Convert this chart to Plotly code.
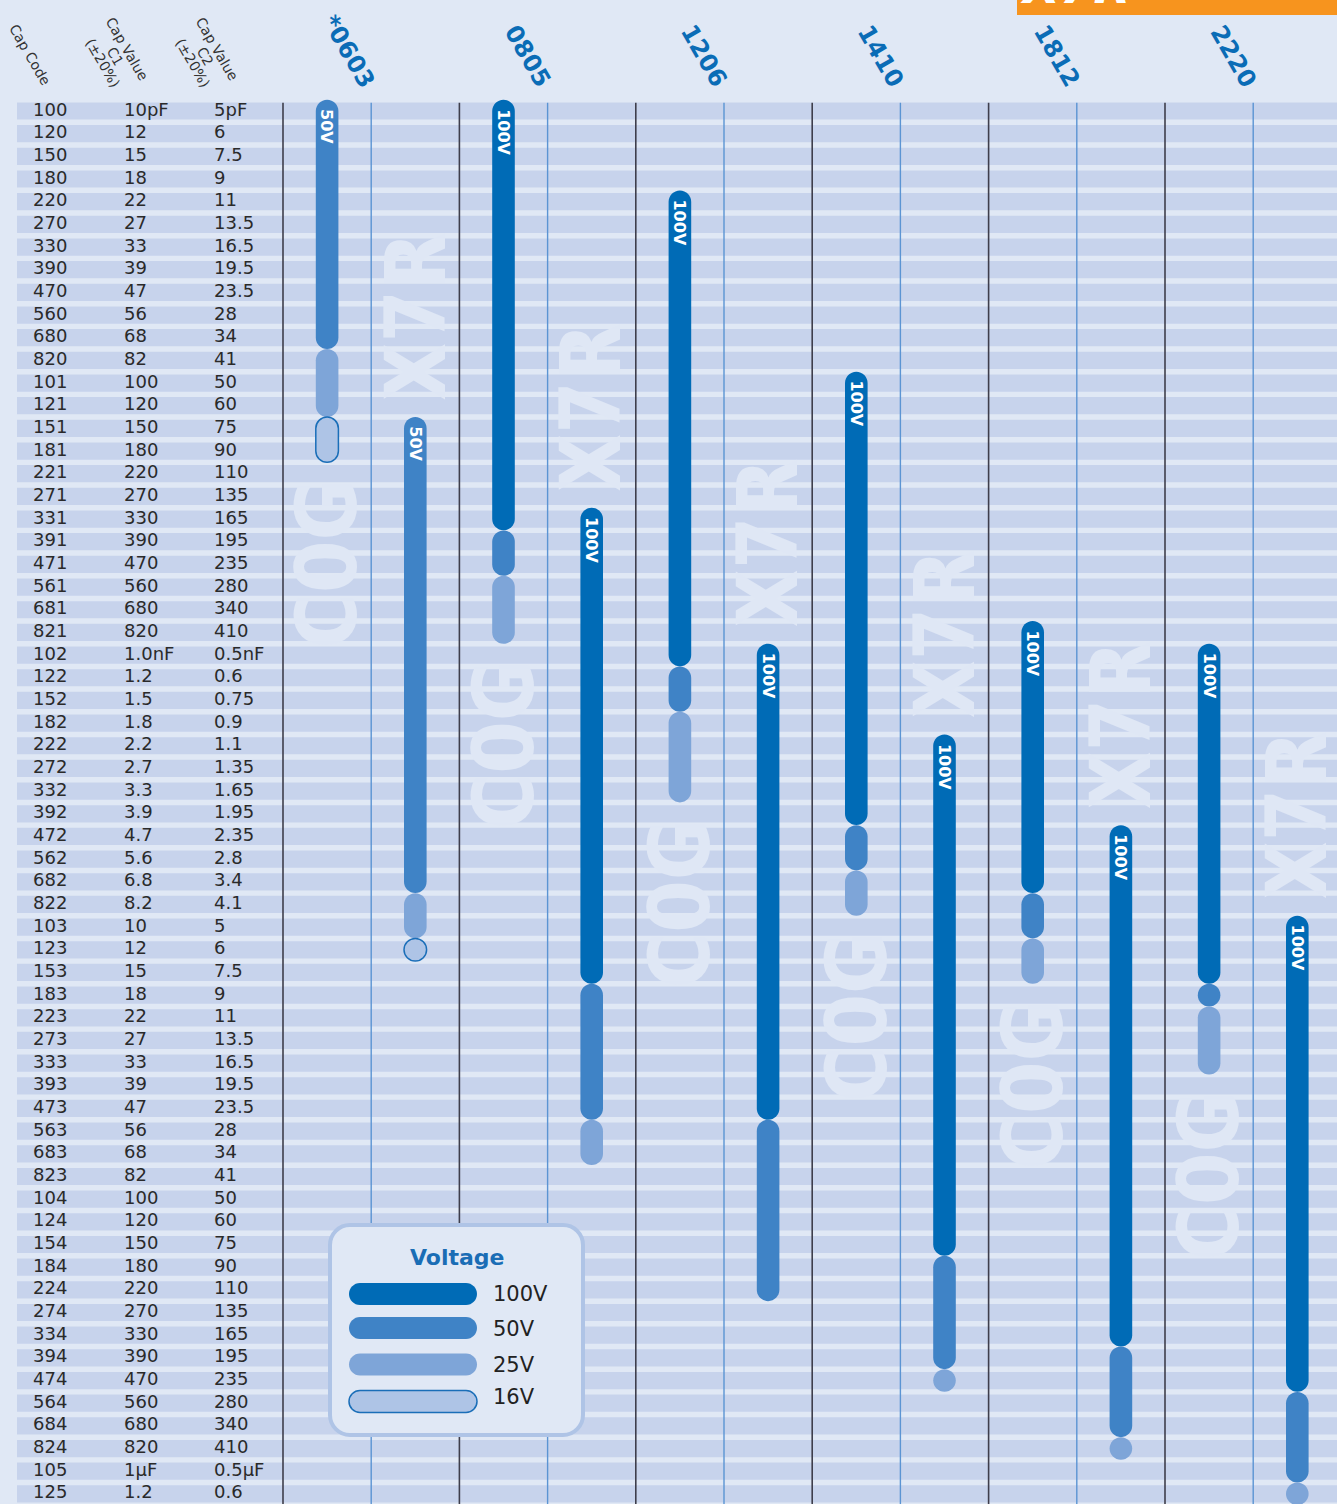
import plotly.graph_objects as go

# ---------------- data ----------------
cap_codes = ["100", "120", "150", "180", "220", "270", "330", "390", "470", "560", "680", "820",
             "101", "121", "151", "181", "221", "271", "331", "391", "471", "561", "681", "821",
             "102", "122", "152", "182", "222", "272", "332", "392", "472", "562", "682", "822",
             "103", "123", "153", "183", "223", "273", "333", "393", "473", "563", "683", "823",
             "104", "124", "154", "184", "224", "274", "334", "394", "474", "564", "684", "824",
             "105", "125"]
cap_c1 = ["10pF", "12", "15", "18", "22", "27", "33", "39", "47", "56", "68", "82",
          "100", "120", "150", "180", "220", "270", "330", "390", "470", "560", "680", "820",
          "1.0nF", "1.2", "1.5", "1.8", "2.2", "2.7", "3.3", "3.9", "4.7", "5.6", "6.8", "8.2",
          "10", "12", "15", "18", "22", "27", "33", "39", "47", "56", "68", "82",
          "100", "120", "150", "180", "220", "270", "330", "390", "470", "560", "680", "820",
          "1µF", "1.2"]
cap_c2 = ["5pF", "6", "7.5", "9", "11", "13.5", "16.5", "19.5", "23.5", "28", "34", "41",
          "50", "60", "75", "90", "110", "135", "165", "195", "235", "280", "340", "410",
          "0.5nF", "0.6", "0.75", "0.9", "1.1", "1.35", "1.65", "1.95", "2.35", "2.8", "3.4", "4.1",
          "5", "6", "7.5", "9", "11", "13.5", "16.5", "19.5", "23.5", "28", "34", "41",
          "50", "60", "75", "90", "110", "135", "165", "195", "235", "280", "340", "410",
          "0.5µF", "0.6"]

packages = ["*0603", "0805", "1206", "1410", "1812", "2220"]
dielectrics = ["C0G", "X7R"]
voltages = ["100V", "50V", "25V", "16V"]

# (voltage, first cap code, last cap code)
c0g_0603 = [("50V", "100", "680"), ("25V", "820", "121"), ("16V", "151", "181")]
x7r_0603 = [("50V", "151", "682"), ("25V", "822", "103"), ("16V", "123", "123")]
c0g_0805 = [("100V", "100", "331"), ("50V", "391", "471"), ("25V", "561", "821")]
x7r_0805 = [("100V", "331", "153"), ("50V", "183", "473"), ("25V", "563", "683")]
c0g_1206 = [("100V", "220", "102"), ("50V", "122", "152"), ("25V", "182", "332")]
x7r_1206 = [("100V", "102", "473"), ("50V", "563", "224")]
c0g_1410 = [("100V", "101", "392"), ("50V", "472", "562"), ("25V", "682", "822")]
x7r_1410 = [("100V", "222", "154"), ("50V", "184", "394"), ("25V", "474", "474")]
c0g_1812 = [("100V", "821", "682"), ("50V", "822", "103"), ("25V", "123", "153")]
x7r_1812 = [("100V", "472", "334"), ("50V", "394", "684"), ("25V", "824", "824")]
c0g_2220 = [("100V", "102", "153"), ("50V", "183", "183"), ("25V", "223", "333")]
x7r_2220 = [("100V", "103", "474"), ("50V", "564", "105"), ("25V", "125", "125")]

c0g_ranges = [c0g_0603, c0g_0805, c0g_1206, c0g_1410, c0g_1812, c0g_2220]
x7r_ranges = [x7r_0603, x7r_0805, x7r_1206, x7r_1410, x7r_1812, x7r_2220]

# ---------------- style / geometry ----------------
W, H = 1337, 1504
BG = "#e0e8f5"
BAND = "#c7d3ec"
VCOL = {"100V": "#006bb6", "50V": "#3f83c6", "25V": "#7ea5d8", "16V": "#aec4e6"}
OUTLINE16 = "#1a6eb8"
TXT = "#2a2a2a"
BLUE_TXT = "#0a6cb6"
WM_COL = "#dfe7f5"

X0_PX, PKG_PX = 283.0, 176.4      # pixel x of first package border, package width
ROW0_PX, ROW_PX = 111.0, 22.67    # pixel y of first row centre, row pitch


def xd(px):
    return (px - X0_PX) / PKG_PX


def yd(py):
    return (py - ROW0_PX) / ROW_PX


def px_x(px):
    return px / W


def px_y(py):
    return 1 - py / H


row_of = {c: i for i, c in enumerate(cap_codes)}
rows = list(range(len(cap_codes)))

RX = 11.3 / PKG_PX
RY = 11.3 / ROW_PX
K = 0.5523


def pill_path(cx, top, bot, rx, ry):
    f = lambda v: f"{v:.5f}"
    a, b = top + ry, bot - ry
    return (f"M{f(cx-rx)},{f(a)} "
            f"C{f(cx-rx)},{f(a-K*ry)} {f(cx-K*rx)},{f(top)} {f(cx)},{f(top)} "
            f"C{f(cx+K*rx)},{f(top)} {f(cx+rx)},{f(a-K*ry)} {f(cx+rx)},{f(a)} "
            f"L{f(cx+rx)},{f(b)} "
            f"C{f(cx+rx)},{f(b+K*ry)} {f(cx+K*rx)},{f(bot)} {f(cx)},{f(bot)} "
            f"C{f(cx-K*rx)},{f(bot)} {f(cx-rx)},{f(b+K*ry)} {f(cx-rx)},{f(b)} Z")


fig = go.Figure()

# row bands
fig.add_trace(go.Bar(orientation="h", y=rows, x=[xd(W + 40) - xd(17)] * len(rows), base=xd(17),
                     width=0.76, marker=dict(color=BAND, line=dict(width=0)), hoverinfo="skip"))

# table text
TABLE_FONT = dict(family="DejaVu Sans", size=18, color=TXT)
for col_px, labels in [(33, cap_codes), (124, cap_c1), (214, cap_c2)]:
    fig.add_trace(go.Scatter(x=[xd(col_px)] * len(rows), y=rows, mode="text", text=labels,
                             textposition="middle right", textfont=TABLE_FONT,
                             hoverinfo="skip", cliponaxis=False))

shapes = []
annotations = []

# vertical column lines
for k in range(len(packages)):
    shapes.append(dict(type="line", xref="x", yref="y", x0=k, x1=k, y0=-0.36, y1=len(rows) + 2,
                       line=dict(color="#3e3e4c", width=1.6)))
    shapes.append(dict(type="line", xref="x", yref="y", x0=k + 0.5, x1=k + 0.5, y0=-0.36,
                       y1=len(rows) + 2, line=dict(color="#5b94d3", width=1.4)))

WM_FONT = dict(family="DejaVu Sans Condensed, sans-serif", size=84, color=WM_COL, weight="bold")

# pills
for k in range(len(packages)):
    for d, ranges in enumerate([c0g_ranges[k], x7r_ranges[k]]):
        cx = k + 0.25 + 0.5 * d
        for v, s, e in ranges:
            top = row_of[s] - RY
            bot = row_of[e] + RY
            line = dict(color=OUTLINE16, width=1.5) if v == "16V" else dict(width=0)
            shapes.append(dict(type="path", xref="x", yref="y", path=pill_path(cx, top, bot, RX, RY),
                               fillcolor=VCOL[v], line=line, layer="above"))
        # voltage label on top segment
        v0, s0, _ = ranges[0]
        annotations.append(dict(text=v0, x=cx, y=row_of[s0] - RY + 7 / ROW_PX, xref="x", yref="y",
                                textangle=90, xanchor="center", yanchor="top", showarrow=False,
                                font=dict(family="DejaVu Sans", size=16, color="white", weight="bold")))
        # dielectric watermark
        if d == 0:
            y_end = row_of[ranges[-1][2]] + RY + 14 / ROW_PX
            annotations.append(dict(text=dielectrics[d], x=cx, y=y_end, xref="x", yref="y",
                                    textangle=-90, xanchor="center", yanchor="top",
                                    showarrow=False, font=WM_FONT))
        else:
            y_start = row_of[ranges[0][1]] - RY - 14 / ROW_PX
            annotations.append(dict(text=dielectrics[d], x=cx, y=y_start, xref="x", yref="y",
                                    textangle=-90, xanchor="center", yanchor="bottom",
                                    showarrow=False, font=WM_FONT))

# package headers
for k, p in enumerate(packages):
    annotations.append(dict(text=p, x=k + 0.565, y=yd(95), xref="x", yref="y", textangle=60,
                            xanchor="right", yanchor="bottom", showarrow=False,
                            font=dict(family="DejaVu Sans", size=24, color=BLUE_TXT, weight="bold")))

# table headers (one annotation per line, rotated 60 deg)
HDR_FONT = dict(family="DejaVu Sans", size=14, color="#333333")
header_blocks = [(30, 55, ["Cap Code"]),
                 (115, 56, ["Cap Value", "C1", "(±20%)"]),
                 (205, 56, ["Cap Value", "C2", "(±20%)"])]
for cxp, cyp, lines in header_blocks:
    n = len(lines)
    for j, t in enumerate(lines):
        off = (j - (n - 1) / 2) * 14
        annotations.append(dict(text=t, x=xd(cxp - 0.866 * off), y=yd(cyp + 0.5 * off), xref="x",
                                yref="y", textangle=60, xanchor="center", yanchor="middle",
                                showarrow=False, font=HDR_FONT))

# orange title tab (top right)
shapes.append(dict(type="rect", xref="paper", yref="paper", x0=px_x(1017), x1=1.0,
                   y0=px_y(15), y1=1.0, fillcolor="#f7941e", line=dict(width=0)))
annotations.append(dict(text="<b><i>X7R</i></b>", x=px_x(1018), y=px_y(16), xref="paper", yref="paper",
                        xanchor="left", yanchor="bottom", showarrow=False,
                        font=dict(family="DejaVu Sans", size=48, color="white")))

# legend box
def rrect_paper(x0, y0, x1, y1, r):
    rx, ry = r / W, r / H
    X0, X1 = px_x(x0), px_x(x1)
    Y0, Y1 = px_y(y0), px_y(y1)  # Y0 top (larger), Y1 bottom
    f = lambda v: f"{v:.6f}"
    return (f"M{f(X0+rx)},{f(Y0)} L{f(X1-rx)},{f(Y0)} "
            f"C{f(X1-rx+K*rx)},{f(Y0)} {f(X1)},{f(Y0-ry+K*ry)} {f(X1)},{f(Y0-ry)} "
            f"L{f(X1)},{f(Y1+ry)} "
            f"C{f(X1)},{f(Y1+ry-K*ry)} {f(X1-rx+K*rx)},{f(Y1)} {f(X1-rx)},{f(Y1)} "
            f"L{f(X0+rx)},{f(Y1)} "
            f"C{f(X0+rx-K*rx)},{f(Y1)} {f(X0)},{f(Y1+ry-K*ry)} {f(X0)},{f(Y1+ry)} "
            f"L{f(X0)},{f(Y0-ry)} "
            f"C{f(X0)},{f(Y0-ry+K*ry)} {f(X0+rx-K*rx)},{f(Y0)} {f(X0+rx)},{f(Y0)} Z")


shapes.append(dict(type="path", xref="paper", yref="paper", path=rrect_paper(330, 1225, 583, 1435, 20),
                   fillcolor=BG, line=dict(color="#afc4e6", width=4)))
annotations.append(dict(text="<b>Voltage</b>", x=px_x(457), y=px_y(1257), xref="paper", yref="paper",
                        xanchor="center", yanchor="middle", showarrow=False,
                        font=dict(family="DejaVu Sans", size=22, color="#1a6db5")))
legend_pill_y = [1294, 1328, 1364.5, 1401.5]
legend_text_y = [1294, 1329, 1365, 1397]
for v, py, ty in zip(voltages, legend_pill_y, legend_text_y):
    line = dict(color=OUTLINE16, width=1.5) if v == "16V" else dict(width=0)
    shapes.append(dict(type="path", xref="paper", yref="paper",
                       path=rrect_paper(349, py - 11, 477, py + 11, 11), fillcolor=VCOL[v], line=line))
    annotations.append(dict(text=v, x=px_x(491), y=px_y(ty), xref="paper", yref="paper",
                            xanchor="left", yanchor="middle", showarrow=False,
                            font=dict(family="DejaVu Sans", size=21, color="#222222")))

fig.update_layout(
    width=W, height=H, margin=dict(l=0, r=0, t=0, b=0),
    paper_bgcolor=BG, plot_bgcolor=BG, showlegend=False,
    xaxis=dict(range=[xd(0), xd(W)], visible=False, fixedrange=True),
    yaxis=dict(range=[yd(H), yd(0)], visible=False, fixedrange=True),
    shapes=shapes, annotations=annotations,
)

fig.write_html("out.html", config={"displayModeBar": False},
               post_script="document.body.style.margin='0';")
